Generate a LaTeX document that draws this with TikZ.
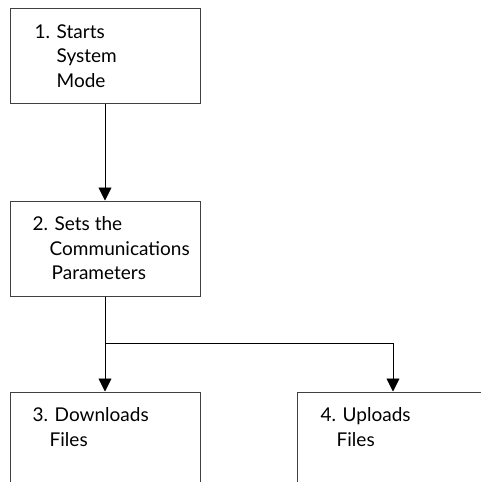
\documentclass[tikz,border=0pt]{standalone}
\usepackage{fontspec}
\setmainfont{Lato}
\usetikzlibrary{positioning,arrows.meta}

\begin{document}
\begin{tikzpicture}[x=1pt,y=-1pt]
\tikzstyle{stepbox}=[draw=black!75,line width=1pt,minimum width=190pt,minimum height=95pt,inner sep=0pt]
\tikzstyle{openbox}=[draw=black!75,line width=1pt,minimum width=190pt,minimum height=120pt,inner sep=0pt]
\tikzstyle{steptext}=[anchor=north west,align=left,inner sep=0pt,font=\fontsize{19}{24.5}\selectfont]
\tikzstyle{flow}=[line width=0.9pt,-{Triangle[width=13pt,length=13pt]}]
\useasboundingbox (0,0) rectangle (481,482);
\clip (0,0) rectangle (481,482);
% boxes
\node[stepbox] (start) at (105,55.5) {};
\node[stepbox] (params) at (105,248.5) {};
\node[openbox] (down) at (105,452) {};
\node[openbox,minimum width=210pt] (up) at (402,452) {};
% texts
\node[steptext,below right=17pt and 25pt of start.north west] (starttext)
  {1. Starts\\\hspace*{22pt}System\\\hspace*{22pt}Mode};
\node[steptext,below right=16pt and 23pt of params.north west] (paramstext)
  {2. Sets the\\\hspace*{17pt}Communications\\\hspace*{19pt}Parameters};
\node[steptext,below right=16pt and 23pt of down.north west] (downtext)
  {3. Downloads\\\hspace*{17pt}Files};
\node[steptext,below right=16pt and 24pt of up.north west] (uptext)
  {4. Uploads\\\hspace*{16pt}Files};
% connectors
\coordinate (split) at (105,343);
\draw[flow] (start) -- (params);
\draw[flow] (params) -- (down);
\draw[flow] (split) -| (up.north -| 393,0);
\end{tikzpicture}
\end{document}
